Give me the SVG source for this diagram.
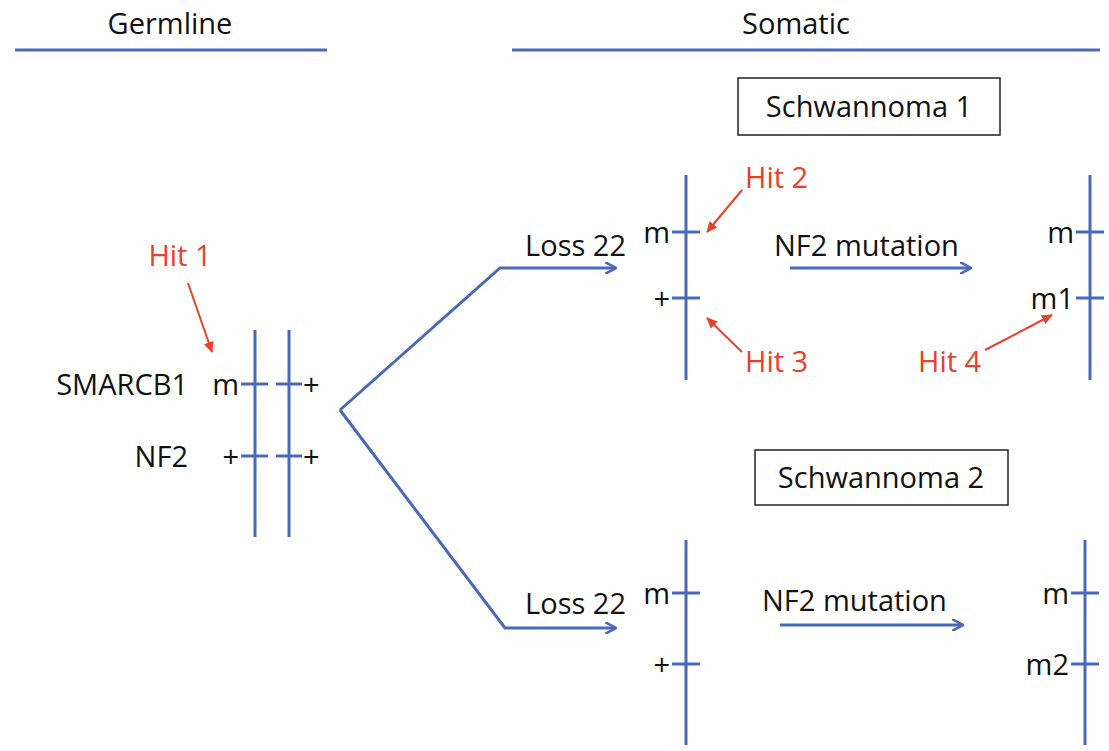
<svg xmlns="http://www.w3.org/2000/svg" width="1109" height="751" viewBox="0 0 1109 751">
<style>
text{font-family:"Open Sans","Liberation Sans",sans-serif;font-size:29px;fill:#111}
.r{fill:#e8402a}
.e{text-anchor:end}
.b{stroke:#4a68b8;stroke-width:3;fill:none}
.ra{stroke:#e8402a;stroke-width:2;fill:none}
.box{fill:#fff;stroke:#222;stroke-width:1.5}
</style>
<defs>
<marker id="ab" markerWidth="12" markerHeight="12" refX="10" refY="6" orient="auto" markerUnits="userSpaceOnUse"><path d="M0,0 L11,6 L0,12" fill="none" stroke="#4a68b8" stroke-width="2.5"/></marker>
<marker id="ar" markerWidth="12" markerHeight="12" refX="10" refY="6" orient="auto" markerUnits="userSpaceOnUse"><path d="M0,1 L11,6 L0,11 z" fill="#e8402a"/></marker>
</defs>
<rect width="1109" height="751" fill="#fff"/>
<g id="headers">
<text x="170" y="34" text-anchor="middle">Germline</text>
<line class="b" x1="15" y1="50" x2="327" y2="50"/>
<text x="796" y="34" text-anchor="middle">Somatic</text>
<line class="b" x1="512" y1="50" x2="1100" y2="50"/>
</g>
<g id="box1"><rect class="box" x="738" y="78" width="262" height="57"/><text x="869" y="117" text-anchor="middle">Schwannoma 1</text></g>
<g id="box2"><rect class="box" x="755" y="450" width="253" height="55"/><text x="881" y="488" text-anchor="middle">Schwannoma 2</text></g>
<g id="germline">
<line class="b" x1="255" y1="330" x2="255" y2="537"/>
<line class="b" x1="289" y1="330" x2="289" y2="537"/>
<line class="b" x1="241" y1="384" x2="268" y2="384"/><line class="b" x1="276" y1="384" x2="302" y2="384"/>
<line class="b" x1="241" y1="456" x2="268" y2="456"/><line class="b" x1="276" y1="456" x2="302" y2="456"/>
<text class="e" x="188" y="395">SMARCB1</text><text class="e" x="239" y="395">m</text><text x="303" y="395">+</text>
<text class="e" x="188" y="467">NF2</text><text class="e" x="239" y="467">+</text><text x="303" y="467">+</text>
<text class="r" x="180" y="266" text-anchor="middle">Hit 1</text>
</g>
<g id="s1">
<line class="b" x1="686" y1="175" x2="686" y2="380"/>
<line class="b" x1="672" y1="232" x2="700" y2="232"/><line class="b" x1="672" y1="298" x2="700" y2="298"/>
<text class="e" x="626" y="256">Loss 22</text><text class="e" x="670" y="243">m</text><text class="e" x="670" y="309">+</text>
<text x="774" y="256">NF2 mutation</text>
<line class="b" x1="1090" y1="175" x2="1090" y2="380"/>
<line class="b" x1="1076" y1="232" x2="1104" y2="232"/><line class="b" x1="1076" y1="298" x2="1104" y2="298"/>
<text class="e" x="1074" y="243">m</text><text class="e" x="1074" y="309">m1</text>
<text class="r" x="745" y="188">Hit 2</text><text class="r" x="745" y="372">Hit 3</text><text class="r" x="918" y="372">Hit 4</text>
</g>
<g id="s2">
<line class="b" x1="686" y1="540" x2="686" y2="745"/>
<line class="b" x1="672" y1="593" x2="700" y2="593"/><line class="b" x1="672" y1="664" x2="700" y2="664"/>
<text class="e" x="626" y="614">Loss 22</text><text class="e" x="670" y="604">m</text><text class="e" x="670" y="675">+</text>
<text x="762" y="611">NF2 mutation</text>
<line class="b" x1="1085" y1="540" x2="1085" y2="745"/>
<line class="b" x1="1071" y1="593" x2="1099" y2="593"/><line class="b" x1="1071" y1="664" x2="1099" y2="664"/>
<text class="e" x="1069" y="604">m</text><text class="e" x="1069" y="675">m2</text>
</g>
<g id="connectors">
<polyline class="b" points="340,410 500,268 615,268" marker-end="url(#ab)"/>
<polyline class="b" points="340,410 505,628 615,628" marker-end="url(#ab)"/>
<line class="b" x1="790" y1="268" x2="970" y2="268" marker-end="url(#ab)"/>
<line class="b" x1="780" y1="625" x2="962" y2="625" marker-end="url(#ab)"/>
<line class="ra" x1="188" y1="283" x2="212" y2="352" marker-end="url(#ar)"/>
<line class="ra" x1="742" y1="190" x2="707" y2="232" marker-end="url(#ar)"/>
<line class="ra" x1="742" y1="352" x2="707" y2="318" marker-end="url(#ar)"/>
<line class="ra" x1="985" y1="350" x2="1052" y2="315" marker-end="url(#ar)"/>
</g>
</svg>
